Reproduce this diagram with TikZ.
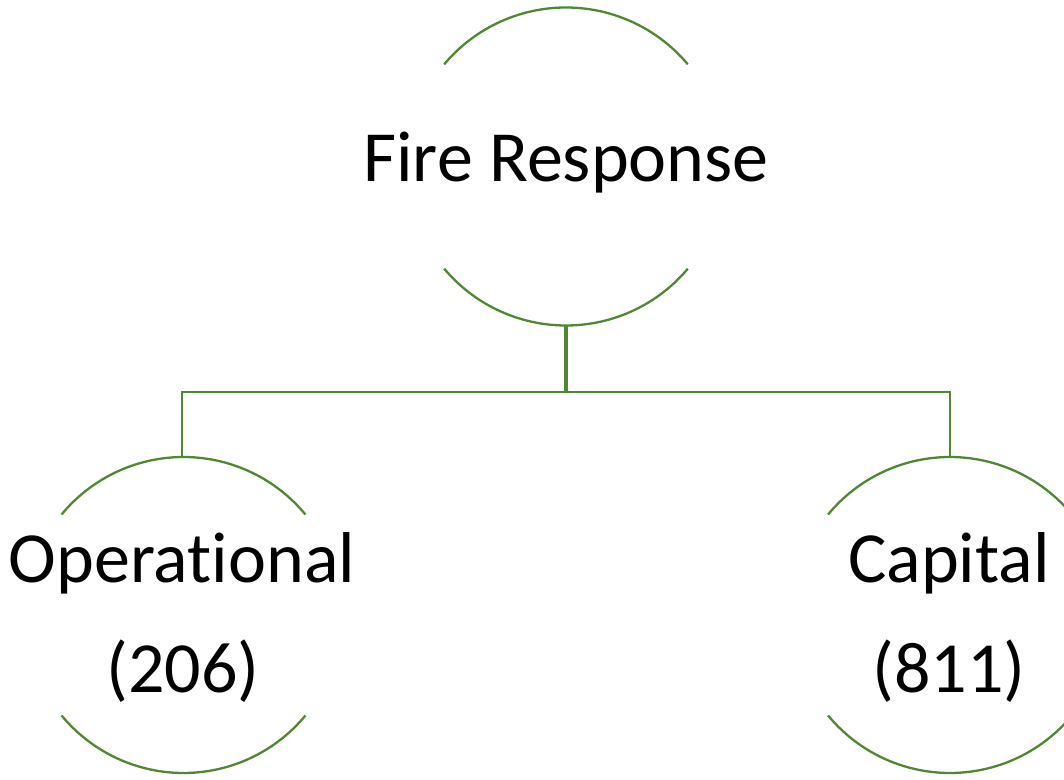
\documentclass[tikz,border=0pt]{standalone}
\usepackage{fontspec}
\setmainfont[RawFeature={-liga}]{Carlito}
\definecolor{linegreen}{RGB}{80,135,50}
\tikzset{
  arcline/.style={draw=linegreen, line width=2.3pt},
  conn/.style={draw=linegreen, line width=2.3pt},
  stem/.style={draw=linegreen, line width=3.3pt},
  toplabel/.style={font=\fontsize{72}{86}\selectfont, anchor=base, inner sep=0pt},
  sublabel/.style={font=\fontsize{72}{86}\selectfont, anchor=base, inner sep=0pt}
}
\begin{document}
\begin{tikzpicture}[x=1pt,y=1pt]
\useasboundingbox (0,0) rectangle (1064,779);
% circle centres
\coordinate (ctop) at (566,612.5);
\coordinate (cleft) at (183.5,164);
\coordinate (cright) at (950,164);
% top circle arcs
\draw[arcline] ([shift={(40:159)}]ctop) arc[start angle=40, end angle=140, radius=159];
\draw[arcline] ([shift={(220:159)}]ctop) arc[start angle=220, end angle=320, radius=159];
% left circle arcs
\draw[arcline] ([shift={(39.5:158)}]cleft) arc[start angle=39.5, end angle=140.5, radius=158];
\draw[arcline] ([shift={(219.5:158)}]cleft) arc[start angle=219.5, end angle=320.5, radius=158];
% right circle arcs
\draw[arcline] ([shift={(39.5:158)}]cright) arc[start angle=39.5, end angle=140.5, radius=158];
\draw[arcline] ([shift={(219.5:158)}]cright) arc[start angle=219.5, end angle=320.5, radius=158];
% labels
\node[toplabel] (fire) at (566,597.3) {Fire Response};
\node[sublabel] (op) at (182,197) {Operational};
\node[sublabel] (opn) at (183,87) {(206)};
\node[sublabel] (cap) at (949,197) {Capital};
\node[sublabel] (capn) at (949,87) {(811)};
% connectors
\coordinate (topbot) at ([shift={(270:159)}]ctop);
\coordinate (junction) at (566,387);
\coordinate (lefttop) at (182,322);
\coordinate (righttop) at (950,322);
\draw[stem] (topbot) -- (junction);
\draw[conn] (junction) -| (lefttop);
\draw[conn] (junction) -| (righttop);
\end{tikzpicture}
\end{document}
